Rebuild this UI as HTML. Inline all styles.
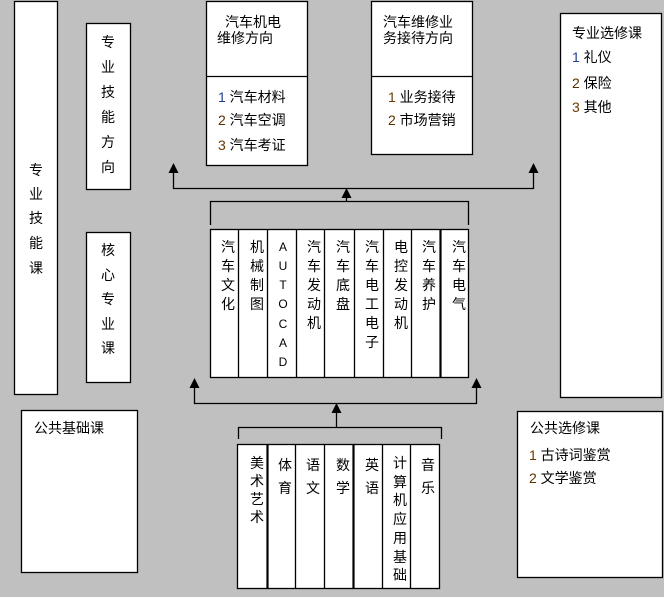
<!DOCTYPE html>
<html><head><meta charset="utf-8"><style>
html,body{margin:0;padding:0;background:#c0c0c0;}
svg{display:block;}
text{font-family:"Liberation Sans","Noto Sans CJK SC","WenQuanYi Zen Hei",sans-serif;font-size:14px;fill:#000;}
.s{font-size:12px;}
</style></head><body>
<svg width="664" height="597" viewBox="0 0 664 597" xmlns="http://www.w3.org/2000/svg">
<rect x="0" y="0" width="664" height="597" fill="#c0c0c0"/>
<g fill="#fff" stroke="#000" stroke-width="1.3">
<rect x="14.5" y="1.5" width="43" height="393"/>
<rect x="86.5" y="23.5" width="44" height="166"/>
<rect x="86.5" y="232.5" width="44" height="150"/>
<rect x="206.5" y="1.5" width="101" height="164"/>
<rect x="371.5" y="1.5" width="101" height="153"/>
<rect x="560.5" y="13.5" width="101" height="384"/>
<rect x="21.5" y="410.5" width="116" height="162"/>
<rect x="517.5" y="411.5" width="145" height="166"/>
<rect x="210.5" y="229.5" width="258" height="148"/>
<rect x="237.5" y="444.5" width="202" height="144"/>
</g>
<g stroke="#000" stroke-width="1.3" fill="none">
<line x1="206" y1="76.5" x2="308" y2="76.5"/>
<line x1="371" y1="76.5" x2="473" y2="76.5"/>
<!-- core dividers -->
<line x1="238.5" y1="229" x2="238.5" y2="378"/>
<line x1="267.5" y1="229" x2="267.5" y2="378"/>
<line x1="296.5" y1="229" x2="296.5" y2="378"/>
<line x1="324.5" y1="229" x2="324.5" y2="378"/>
<line x1="354.5" y1="229" x2="354.5" y2="378"/>
<line x1="383.5" y1="229" x2="383.5" y2="378"/>
<line x1="411.5" y1="229" x2="411.5" y2="378"/>
<line x1="440.5" y1="229" x2="440.5" y2="378" stroke-width="2.2"/>
<!-- public dividers -->
<line x1="267.5" y1="444" x2="267.5" y2="589" stroke-width="2.2"/>
<line x1="295.5" y1="444" x2="295.5" y2="589"/>
<line x1="324.5" y1="444" x2="324.5" y2="589"/>
<line x1="353.5" y1="444" x2="353.5" y2="589" stroke-width="2.2"/>
<line x1="382.5" y1="444" x2="382.5" y2="589"/>
<line x1="410.5" y1="444" x2="410.5" y2="589"/>
<!-- top connectors -->
<polyline points="173.5,170 173.5,188.5 533.5,188.5 533.5,170"/>
<line x1="346.5" y1="195" x2="346.5" y2="201.5"/>
<polyline points="210.5,225 210.5,201.5 468.5,201.5 468.5,225"/>
<!-- bottom connectors -->
<polyline points="194.5,385 194.5,403.5 476.5,403.5 476.5,385"/>
<line x1="336.5" y1="410" x2="336.5" y2="427.5"/>
<polyline points="238.5,439 238.5,427.5 441.5,427.5 441.5,439"/>
</g>
<g fill="#000">
<polygon points="173.5,163 168.5,173 178.5,173"/>
<polygon points="533.5,163 528.5,173 538.5,173"/>
<polygon points="346.5,188 341.5,198 351.5,198"/>
<polygon points="194.5,378 189.5,388 199.5,388"/>
<polygon points="476.5,378 471.5,388 481.5,388"/>
<polygon points="336.5,403 331.5,413 341.5,413"/>
</g>
<!-- vertical labels -->
<g text-anchor="middle">
<text x="36" y="175">专</text><text x="36" y="199">业</text><text x="36" y="223">技</text><text x="36" y="248">能</text><text x="36" y="273">课</text>
<text x="108" y="47">专</text><text x="108" y="72">业</text><text x="108" y="97">技</text><text x="108" y="122">能</text><text x="108" y="147">方</text><text x="108" y="172">向</text>
<text x="108" y="255">核</text><text x="108" y="280">心</text><text x="108" y="304">专</text><text x="108" y="329">业</text><text x="108" y="353">课</text>
</g>
<!-- core courses -->
<g text-anchor="middle">
<text x="228" y="252">汽</text><text x="228" y="271">车</text><text x="228" y="290">文</text><text x="228" y="309">化</text>
<text x="257" y="252">机</text><text x="257" y="271">械</text><text x="257" y="290">制</text><text x="257" y="309">图</text>
<text class="s" x="283" y="251">A</text><text class="s" x="283" y="270">U</text><text class="s" x="283" y="289">T</text><text class="s" x="283" y="308">O</text><text class="s" x="283" y="328">C</text><text class="s" x="283" y="347">A</text><text class="s" x="283" y="366">D</text>
<text x="314" y="252">汽</text><text x="314" y="271">车</text><text x="314" y="290">发</text><text x="314" y="309">动</text><text x="314" y="328">机</text>
<text x="343" y="252">汽</text><text x="343" y="271">车</text><text x="343" y="290">底</text><text x="343" y="309">盘</text>
<text x="372" y="252">汽</text><text x="372" y="271">车</text><text x="372" y="290">电</text><text x="372" y="309">工</text><text x="372" y="328">电</text><text x="372" y="347">子</text>
<text x="401" y="252">电</text><text x="401" y="271">控</text><text x="401" y="290">发</text><text x="401" y="309">动</text><text x="401" y="328">机</text>
<text x="429" y="252">汽</text><text x="429" y="271">车</text><text x="429" y="290">养</text><text x="429" y="309">护</text>
<text x="459" y="252">汽</text><text x="459" y="271">车</text><text x="459" y="290">电</text><text x="459" y="309">气</text>
</g>
<!-- public courses -->
<g text-anchor="middle">
<text x="257" y="468">美</text><text x="257" y="486">术</text><text x="257" y="504">艺</text><text x="257" y="522">术</text>
<text x="285" y="470">体</text><text x="285" y="493">育</text>
<text x="313" y="470">语</text><text x="313" y="493">文</text>
<text x="343" y="470">数</text><text x="343" y="493">学</text>
<text x="372" y="470">英</text><text x="372" y="493">语</text>
<text x="400" y="468">计</text><text x="400" y="487">算</text><text x="400" y="505">机</text><text x="400" y="524">应</text><text x="400" y="543">用</text><text x="400" y="562">基</text><text x="400" y="580">础</text>
<text x="428" y="470">音</text><text x="428" y="493">乐</text>
</g>
<!-- horizontal labels -->
<text x="225" y="27">汽车机电</text>
<text x="217" y="43">维修方向</text>
<text x="218" y="102"><tspan fill="#1f3f8f">1</tspan> 汽车材料</text>
<text x="218" y="125"><tspan fill="#5a3000">2</tspan> 汽车空调</text>
<text x="218" y="150"><tspan fill="#6a3a00">3</tspan> 汽车考证</text>
<text x="383" y="27">汽车维修业</text>
<text x="383" y="43">务接待方向</text>
<text x="388" y="102"><tspan fill="#6a3a00">1</tspan> 业务接待</text>
<text x="388" y="125"><tspan fill="#5a3000">2</tspan> 市场营销</text>
<text x="572" y="38">专业选修课</text>
<text x="572" y="62"><tspan fill="#1f3f8f">1</tspan> 礼仪</text>
<text x="572" y="88"><tspan fill="#5a3000">2</tspan> 保险</text>
<text x="572" y="112"><tspan fill="#6a3a00">3</tspan> 其他</text>
<text x="34" y="433">公共基础课</text>
<text x="530" y="433">公共选修课</text>
<text x="529" y="460"><tspan fill="#6a3a00">1</tspan> 古诗词鉴赏</text>
<text x="529" y="483"><tspan fill="#5a3000">2</tspan> 文学鉴赏</text>
</svg>
</body></html>
